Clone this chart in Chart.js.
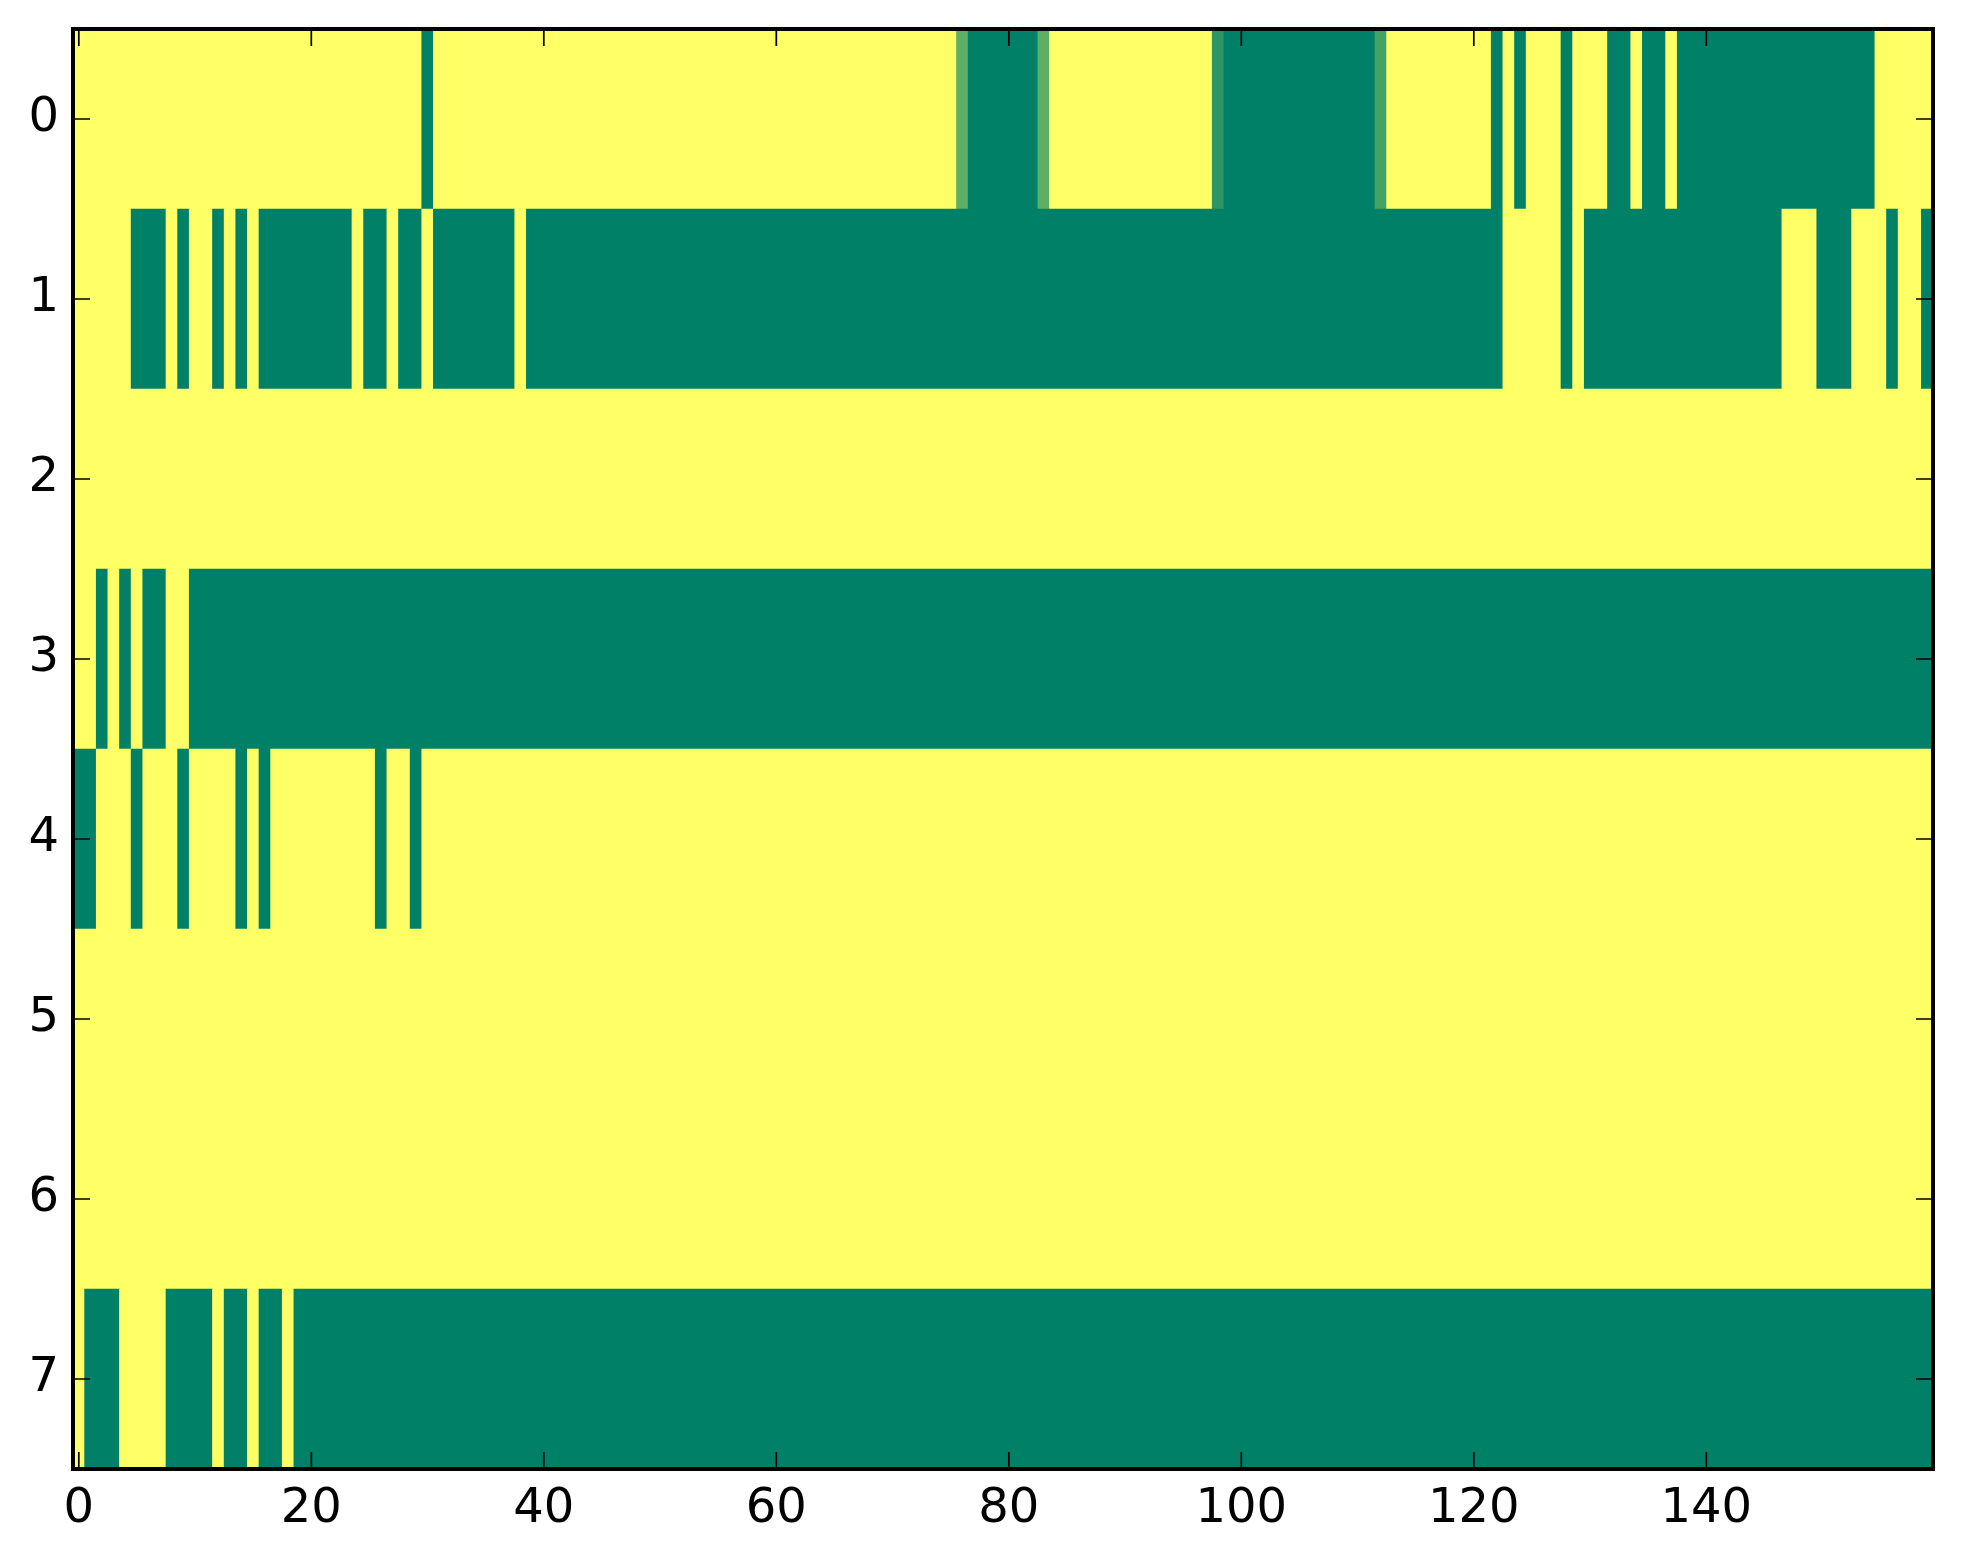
<!DOCTYPE html>
<html>
<head>
<meta charset="utf-8">
<script src="https://cdn.jsdelivr.net/npm/chart.js@4/dist/chart.umd.min.js"></script>
<style>
  html, body { margin: 0; padding: 0; background: #fff; }
  canvas { display: block; }
</style>
</head>
<body>
<canvas id="heat" width="1963" height="1564"></canvas>
<script>
// rows of the image, read left to right as runs of [value, number of columns]
// value 1 = yellow, 0 = dark green, in between = lighter greens
const row0 = [[1, 30], [0, 1], [1, 45], [0.37, 1], [0, 6], [0.37, 1], [1, 14], [0.18, 1], [0, 13], [0.27, 1],
  [1, 9], [0, 1], [1, 1], [0, 1], [1, 3], [0, 1], [1, 3], [0, 2], [1, 1], [0, 2], [1, 1], [0, 17], [1, 5]];
const row1 = [[1, 5], [0, 3], [1, 1], [0, 1], [1, 2], [0, 1], [1, 1], [0, 1], [1, 1], [0, 8], [1, 1], [0, 2],
  [1, 1], [0, 2], [1, 1], [0, 7], [1, 1], [0, 84], [1, 5], [0, 1], [1, 1], [0, 17], [1, 3], [0, 3], [1, 3],
  [0, 1], [1, 2], [0, 1]];
const row2 = [[1, 160]];
const row3 = [[1, 2], [0, 1], [1, 1], [0, 1], [1, 1], [0, 2], [1, 2], [0, 150]];
const row4 = [[0, 2], [1, 3], [0, 1], [1, 3], [0, 1], [1, 4], [0, 1], [1, 1], [0, 1], [1, 9], [0, 1], [1, 2],
  [0, 1], [1, 130]];
const row5 = [[1, 160]];
const row6 = [[1, 160]];
const row7 = [[1, 1], [0, 3], [1, 4], [0, 4], [1, 1], [0, 2], [1, 1], [0, 2], [1, 1], [0, 141]];

const rowLabels = ['0', '1', '2', '3', '4', '5', '6', '7'];
const xTicks = [0, 20, 40, 60, 80, 100, 120, 140];
const columnCount = 160;

const rows = [row0, row1, row2, row3, row4, row5, row6, row7];

// matplotlib "summer" colormap
function summer(v) {
  const r = Math.round(255 * v);
  const g = Math.round(127.5 + 127.5 * v);
  return `rgb(${r},${g},102)`;
}

const cells = [];
rows.forEach((runs, r) => {
  let start = 0;
  runs.forEach(([value, count]) => {
    cells.push({ x: [start - 0.5, start + count - 0.5], y: rowLabels[r], v: value });
    start += count;
  });
});

const tickFont = { family: "'DejaVu Sans', sans-serif", size: 48 };

// black frame with inward ticks on all four sides, like the matplotlib axes
const framePlugin = {
  id: 'frame',
  afterDraw(chart) {
    const { ctx, chartArea: a, scales } = chart;
    const len = 17;
    ctx.save();
    ctx.strokeStyle = '#000';
    ctx.lineWidth = 1.7;
    ctx.beginPath();
    xTicks.forEach((v) => {
      const px = scales.x.getPixelForValue(v);
      ctx.moveTo(px, a.bottom);
      ctx.lineTo(px, a.bottom - len);
      ctx.moveTo(px, a.top);
      ctx.lineTo(px, a.top + len);
    });
    rowLabels.forEach((label, index) => {
      const py = scales.y.getPixelForValue(index);
      ctx.moveTo(a.left, py);
      ctx.lineTo(a.left + len, py);
      ctx.moveTo(a.right, py);
      ctx.lineTo(a.right - len, py);
    });
    ctx.stroke();
    ctx.lineWidth = 4;
    ctx.strokeRect(a.left, a.top, a.right - a.left, a.bottom - a.top);
    ctx.restore();
  },
};

new Chart(document.getElementById('heat').getContext('2d'), {
  type: 'bar',
  data: {
    labels: rowLabels,
    datasets: [
      {
        data: cells,
        backgroundColor: cells.map((c) => summer(c.v)),
        borderWidth: 0,
        barPercentage: 1,
        categoryPercentage: 1,
        grouped: false,
      },
    ],
  },
  options: {
    indexAxis: 'y',
    responsive: false,
    animation: false,
    devicePixelRatio: 1,
    layout: {
      padding: { top: 29, right: 30, left: 0, bottom: 0 },
    },
    plugins: {
      legend: { display: false },
      tooltip: { enabled: false },
    },
    scales: {
      x: {
        type: 'linear',
        min: -0.5,
        max: columnCount - 0.5,
        afterBuildTicks(axis) {
          axis.ticks = xTicks.map((v) => ({ value: v }));
        },
        afterFit(scale) {
          scale.height = 95;
          scale.paddingLeft = 0;
          scale.paddingRight = 0;
        },
        grid: { display: false, drawTicks: false },
        border: { display: false },
        ticks: {
          color: '#000',
          font: tickFont,
          padding: 12,
          maxRotation: 0,
          autoSkip: false,
        },
      },
      y: {
        type: 'category',
        afterFit(scale) {
          scale.width = 73;
          scale.paddingTop = 0;
          scale.paddingBottom = 0;
        },
        grid: { display: false, drawTicks: false },
        border: { display: false },
        ticks: {
          color: '#000',
          font: tickFont,
          padding: 14,
          autoSkip: false,
        },
      },
    },
  },
  plugins: [framePlugin],
});
</script>
</body>
</html>
